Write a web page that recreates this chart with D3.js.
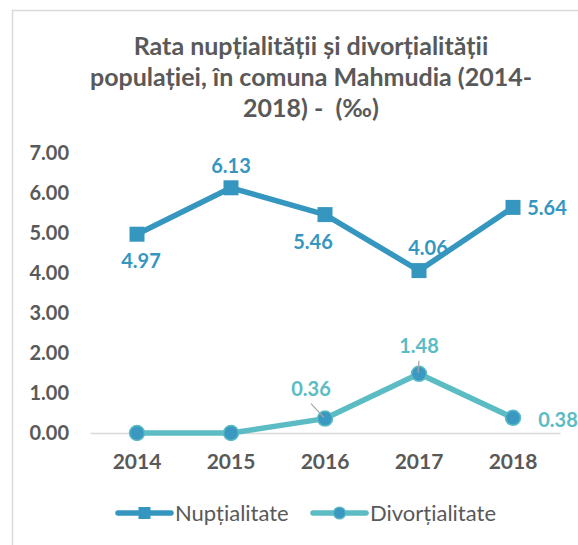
<!DOCTYPE html>
<html>
<head>
<meta charset="utf-8">
<script src="https://cdn.jsdelivr.net/npm/d3@7"></script>
<style>
  body { margin: 0; background: #fff; }
  svg { display: block; font-family: Lato, "Open Sans", sans-serif; }
</style>
</head>
<body>
<div id="graph"></div>
<script>
"use strict";

let years = ['2014', '2015', '2016', '2017', '2018'];
let nuptialitate = [4.97, 6.13, 5.46, 4.06, 5.64];
let divortialitate = [0, 0, 0.36, 1.48, 0.38];
let yTicks = [0, 1, 2, 3, 4, 5, 6, 7];
let titleLines = [
  'Rata nupțialității și divorțialității',
  'populației, în comuna Mahmudia (2014-',
  '2018) -  (‰)'
];
let seriesNames = ['Nupțialitate', 'Divorțialitate'];

let width = 578;
let height = 545;
let blue = '#3596bf';
let teal = '#5bbcc4';
let grey = '#595959';

let svg = d3.select('#graph')
  .append('svg')
  .attr('width', width)
  .attr('height', height);

// chart frame (runs off the right and bottom edges)
svg.append('rect')
  .attr('x', 12.5)
  .attr('y', 10.5)
  .attr('width', 620)
  .attr('height', 600)
  .attr('fill', 'none')
  .attr('stroke', '#d9d9d9')
  .attr('stroke-width', 1.5);

svg.append('text')
  .attr('text-anchor', 'middle')
  .attr('fill', grey)
  .attr('font-weight', 'bold')
  .attr('font-size', 25)
  .style('white-space', 'pre')
  .selectAll('tspan')
  .data(titleLines)
  .join('tspan')
  .attr('x', 311)
  .attr('y', (d, i) => 55 + i * 31)
  .text(d => d);

let x = d3.scaleBand()
  .domain(years)
  .range([90, 560]);

let cx = d => x(d) + x.bandwidth() / 2;

let y = d3.scaleLinear()
  .domain([0, 7])
  .range([433, 153]);

let yAxis = svg.append('g')
  .attr('transform', 'translate(90, 0)')
  .call(d3.axisLeft(y).tickValues(yTicks).tickFormat(d3.format('.2f')).tickSize(0).tickPadding(21));
yAxis.select('.domain').remove();
yAxis.selectAll('text')
  .attr('fill', grey)
  .attr('font-size', 20)
  .attr('font-weight', 'bold')
  .attr('font-family', 'Lato, sans-serif');

let xAxis = svg.append('g')
  .attr('transform', 'translate(0, 433)')
  .call(d3.axisBottom(x).tickSize(0).tickPadding(21));
xAxis.select('.domain')
  .attr('stroke', '#d9d9d9')
  .attr('stroke-width', 1.5);
xAxis.selectAll('text')
  .attr('fill', grey)
  .attr('font-size', 21)
  .attr('font-weight', 'bold')
  .attr('font-family', 'Lato, sans-serif');

let line = d3.line()
  .x((d, i) => cx(years[i]))
  .y(d => y(d));

// Divortialitate
svg.append('path')
  .datum(divortialitate)
  .attr('fill', 'none')
  .attr('stroke', teal)
  .attr('stroke-width', 5.5)
  .attr('stroke-linejoin', 'round')
  .attr('d', line);

svg.selectAll('.dot')
  .data(divortialitate)
  .join('circle')
  .attr('class', 'dot')
  .attr('cx', (d, i) => cx(years[i]))
  .attr('cy', d => y(d))
  .attr('r', 7.5)
  .attr('fill', '#3a98c1')
  .attr('stroke', teal)
  .attr('stroke-width', 1.5);

// Nuptialitate
svg.append('path')
  .datum(nuptialitate)
  .attr('fill', 'none')
  .attr('stroke', blue)
  .attr('stroke-width', 5.5)
  .attr('stroke-linejoin', 'round')
  .attr('d', line);

svg.selectAll('.sq')
  .data(nuptialitate)
  .join('rect')
  .attr('class', 'sq')
  .attr('x', (d, i) => cx(years[i]) - 7.5)
  .attr('y', d => y(d) - 7.5)
  .attr('width', 15)
  .attr('height', 15)
  .attr('fill', blue);

// data labels: offsets of the label centre from its point
let nuptOffsets = [[4, 27], [0, -22], [-12, 27], [9, -23], [34, 0]];
let divOffsets = [null, null, [-14, -30], [0, -28], [45, 2]];

svg.selectAll('.nlab')
  .data(nuptialitate)
  .join('text')
  .attr('class', 'nlab')
  .attr('x', (d, i) => cx(years[i]) + nuptOffsets[i][0])
  .attr('y', (d, i) => y(d) + nuptOffsets[i][1])
  .attr('dy', '0.36em')
  .attr('text-anchor', 'middle')
  .attr('fill', blue)
  .attr('font-size', 20)
  .attr('font-weight', 'bold')
  .text(d => d.toFixed(2));

let divLabelled = divortialitate
  .map((v, i) => ({ v: v, i: i }))
  .filter(d => divOffsets[d.i]);

// leader lines
svg.selectAll('.lead')
  .data(divLabelled.filter(d => d.i < 4))
  .join('line')
  .attr('class', 'lead')
  .attr('x1', d => cx(years[d.i]) + divOffsets[d.i][0])
  .attr('y1', d => y(d.v) + divOffsets[d.i][1] + 15)
  .attr('x2', d => cx(years[d.i]) - 1)
  .attr('y2', d => y(d.v) - 1)
  .attr('stroke', '#a6a6a6')
  .attr('stroke-width', 1.2);

svg.selectAll('.dlab')
  .data(divLabelled)
  .join('text')
  .attr('class', 'dlab')
  .attr('x', d => cx(years[d.i]) + divOffsets[d.i][0])
  .attr('y', d => y(d.v) + divOffsets[d.i][1])
  .attr('dy', '0.36em')
  .attr('text-anchor', 'middle')
  .attr('fill', teal)
  .attr('font-size', 20)
  .attr('font-weight', 'bold')
  .text(d => d.v.toFixed(2));

// legend
let legend = svg.append('g')
  .attr('transform', 'translate(0, 513)');

let legendX = [118, 313];

legend.selectAll('.lline')
  .data(seriesNames)
  .join('line')
  .attr('class', 'lline')
  .attr('x1', (d, i) => legendX[i])
  .attr('x2', (d, i) => legendX[i] + 53)
  .attr('stroke', (d, i) => i === 0 ? blue : teal)
  .attr('stroke-width', 5.5)
  .attr('stroke-linecap', 'round');

legend.append('rect')
  .attr('x', legendX[0] + 26.5 - 6)
  .attr('y', -6)
  .attr('width', 12)
  .attr('height', 12)
  .attr('fill', blue);

legend.append('circle')
  .attr('cx', legendX[1] + 26.5)
  .attr('r', 6)
  .attr('fill', '#3a98c1')
  .attr('stroke', teal)
  .attr('stroke-width', 1.2);

legend.selectAll('.ltext')
  .data(seriesNames)
  .join('text')
  .attr('class', 'ltext')
  .attr('x', (d, i) => legendX[i] + 57)
  .attr('dy', '0.36em')
  .attr('fill', grey)
  .attr('font-size', 22)
  .text(d => d);
</script>
</body>
</html>
